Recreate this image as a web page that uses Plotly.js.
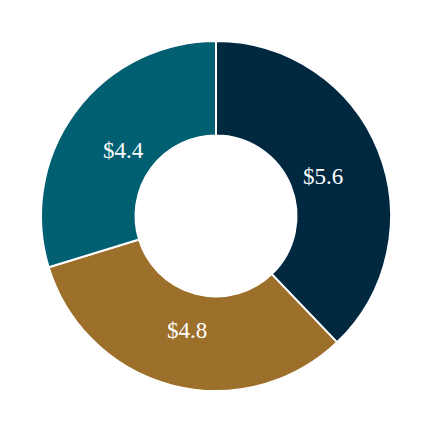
<!DOCTYPE html>
<html>
<head>
<meta charset="utf-8">
<script src="https://cdn.plot.ly/plotly-3.0.1.min.js"></script>
<style>html,body{margin:0;padding:0;background:#fff;}</style>
</head>
<body>
<div id="chart" style="width:430px;height:430px;"></div>
<script>
const labels = ["Segment A", "Segment B", "Segment C"];
const values = [5.6, 4.8, 4.4];
const textLabels = ["$5.6", "$4.8", "$4.4"];
const colors = ["#002940", "#9C702A", "#005F70"];

const W = 430, H = 430;
const margin = { l: 41, r: 39, t: 41, b: 39 };
const plotSize = W - margin.l - margin.r; // 350
const labelRadius = 115; // px from centre
const labelDy = 3; // px downward nudge

const trace = {
  type: "pie",
  labels: labels,
  values: values,
  textinfo: "none",
  hole: 0.46,
  sort: false,
  direction: "clockwise",
  rotation: 0,
  marker: { colors: colors, line: { color: "#ffffff", width: 2 } },
  showlegend: false,
  hoverinfo: "none"
};

// label positions derived from the data (slice mid-angles)
const total = values.reduce((a, b) => a + b, 0);
let cum = 0;
const annotations = values.map((v, i) => {
  const mid = (cum + v / 2) / total * 2 * Math.PI;
  cum += v;
  return {
    xref: "paper", yref: "paper",
    x: 0.5 + (labelRadius / plotSize) * Math.sin(mid),
    y: 0.5 + (labelRadius / plotSize) * Math.cos(mid) - labelDy / plotSize,
    text: textLabels[i],
    showarrow: false,
    xanchor: "center", yanchor: "middle",
    font: { family: "Liberation Serif, Times New Roman, serif", size: 23, color: "#ffffff" }
  };
});

const layout = {
  width: W,
  height: H,
  margin: margin,
  paper_bgcolor: "#ffffff",
  plot_bgcolor: "#ffffff",
  showlegend: false,
  annotations: annotations
};

Plotly.newPlot("chart", [trace], layout, { displayModeBar: false, staticPlot: true });
</script>
</body>
</html>
